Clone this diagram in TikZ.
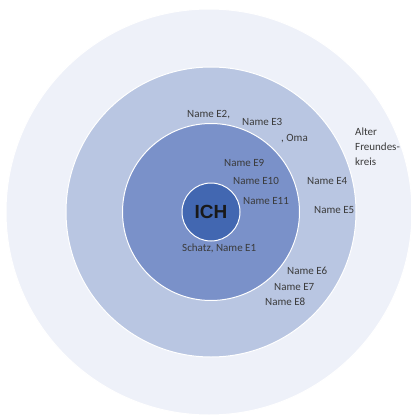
\documentclass[tikz,border=0pt]{standalone}
\usepackage{fontspec}
\setmainfont{Carlito}
\newfontfamily\ichfont{Liberation Sans}
\usepackage{tikz}
\usetikzlibrary{positioning}
\definecolor{kreisaussen}{HTML}{EEF1F9}
\definecolor{kreismitte}{HTML}{B9C6E2}
\definecolor{kreisinnen}{HTML}{7A91C9}
\definecolor{kreisich}{HTML}{4267B1}
\definecolor{schrift}{HTML}{3A3A3A}
\tikzstyle{ring}=[
	circle,
	draw=white,
	line width=1pt,
	inner sep=0]
\tikzstyle{person}=[
	anchor=west,
	inner sep=0,
	text=schrift,
	font=\fontsize{11}{13}\selectfont]
\tikzstyle{ichlabel}=[
	text=black!90,
	font=\ichfont\bfseries\fontsize{19}{19}\selectfont]

\begin{document}
\begin{tikzpicture}[x=1pt,y=-1pt]
	\useasboundingbox (0,0) rectangle (411,415);
	\begin{scope}
		\clip (0,0) rectangle (411,415);
		\node[ring,fill=kreisaussen,minimum size=406]	(alt)	at (209,212)	{};
		\node[ring,fill=kreismitte,minimum size=290]	(mitte)	at (211,212)	{};
		\node[ring,fill=kreisinnen,minimum size=177]	(innen)	at (211,212)	{};
		\node[ring,fill=kreisich,minimum size=58]	(kern)	at (211,212)	{};
	\end{scope}
	\node[ichlabel]	(ichtext)	at (kern)	{ICH};
	\begin{scope}
		\node[person]	(e1)	at (182,248)	{Schatz, Name E1};
		\node[person]	(e2)	at (187,115)	{Name E2,};
		\node[person]	(e3)	at (242,122)	{Name E3};
		\node[person]	(oma)	at (281,139)	{, Oma};
		\node[person]	(e4)	at (307,181)	{Name E4};
		\node[person]	(e5)	at (314,210)	{Name E5};
		\node[person]	(e6)	at (287,271)	{Name E6};
		\node[person]	(e7)	at (274,287)	{Name E7};
		\node[person]	(e8)	at (265,302)	{Name E8};
		\node[person]	(e9)	at (224,163)	{Name E9};
		\node[person]	(e10)	at (233,181)	{Name E10};
		\node[person]	(e11)	at (243,201)	{Name E11};
		\node[person,align=left,font=\fontsize{11}{15}\selectfont]	(freunde)	at (355,147)	{Alter\\Freundes-\\kreis};
	\end{scope}
\end{tikzpicture}
\end{document}
